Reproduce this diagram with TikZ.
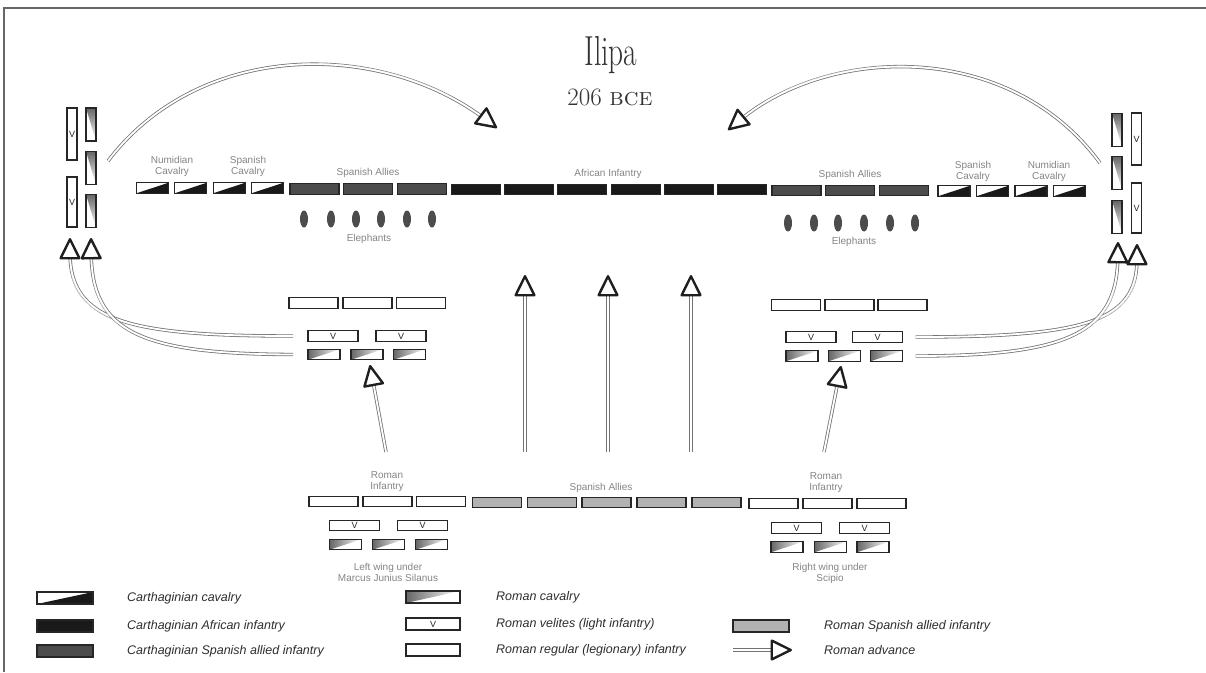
\documentclass[tikz,border=0pt]{standalone}
\usepackage{fontspec}
\usepackage{graphicx}
\usetikzlibrary{arrows.meta,shapes.geometric}
\newfontfamily\lab{Liberation Sans}
\definecolor{labgray}{HTML}{858585}
\begin{document}
\begin{tikzpicture}[x=1pt,y=-1pt,
  unit/.style={draw=black!85, line width=1.1pt, inner sep=0pt, outer sep=0pt, minimum height=10.5pt, rectangle},
  wide/.style={unit, minimum width=49pt},
  narrow/.style={unit, minimum width=32pt},
  afr/.style={wide, fill=black!90},
  csp/.style={wide, fill=black!70},
  rsp/.style={wide, fill=black!30},
  rleg/.style={wide, fill=white},
  vlab/.style={font=\lab\fontsize{9}{9}\selectfont, inner sep=0pt, text=black!85},
  vel/.style={unit, minimum width=50pt, fill=white, label={[vlab]center:V}},
  ccav/.style={narrow, fill=white, path picture={\fill[black!90] (path picture bounding box.south west) -- (path picture bounding box.south east) -- (path picture bounding box.north east) -- cycle;}},
  rcav/.style={narrow, fill=white, path picture={\shade[left color=black!60, right color=white] (path picture bounding box.south west) -- (path picture bounding box.north west) -- (path picture bounding box.north east) -- cycle;}},
  vcav/.style={unit, minimum width=10pt, minimum height=33pt, fill=white, path picture={\shade[top color=black!60, bottom color=white] (path picture bounding box.north west) -- (path picture bounding box.north east) -- (path picture bounding box.south east) -- cycle;}},
  vvel/.style={unit, minimum width=10pt, fill=white, label={[vlab]center:V}},
  eleph/.style={ellipse, fill=black!70, minimum width=8pt, minimum height=17pt, inner sep=0pt},
  lbl/.style={font=\lab\fontsize{10}{11}\selectfont, text=labgray, align=center, inner sep=0pt},
  leg/.style={font=\lab\itshape\fontsize{12.5}{14}\selectfont, text=black!82, anchor=west, inner sep=0pt},
  shaft/.style={draw=black!55, double=white, double distance=1.8pt, line width=0.8pt, shorten >=15pt},
  head/.style={draw=white, line width=0.3pt, -{Triangle[length=23pt, width=22pt, line width=2.4pt 0, fill=white, color=black!88, round]}}
]
\useasboundingbox (0,0) rectangle (1206,672);
\fill[white] (0,0) rectangle (1206,672);
\draw[black!60, line width=1.5pt] (4,672) -- (4,8) -- (1206,8);

% title
\node[anchor=base, text=black!80, inner sep=0pt] (title) at (611,65) {\scalebox{0.7}[1]{\fontsize{42}{42}\selectfont Ilipa}};
\node[anchor=base, text=black!80, inner sep=0pt] (date) at (610,105) {\fontsize{25}{25}\selectfont \oldstylenums{206} \textsc{bce}};

% Carthaginian line
\node[ccav] (nc1) at (152.5,188) {};
\node[ccav] (nc2) at (190.8,188) {};
\node[ccav] (sc1) at (229.2,188) {};
\node[ccav] (sc2) at (267.5,188) {};
\node[csp] (sa1) at (314.5,189) {};
\node[csp] (sa2) at (368,189) {};
\node[csp] (sa3) at (422,189) {};
\node[afr] (af1) at (476,189.5) {};
\node[afr] (af2) at (529,189.5) {};
\node[afr] (af3) at (582,189.5) {};
\node[afr] (af4) at (636,189.5) {};
\node[afr] (af5) at (689,189.5) {};
\node[afr] (af6) at (742,189.5) {};
\node[csp] (sb1) at (796.5,190.5) {};
\node[csp] (sb2) at (850,190.5) {};
\node[csp] (sb3) at (904,190.5) {};
\node[ccav] (sc3) at (954,191) {};
\node[ccav] (sc4) at (992.5,191) {};
\node[ccav] (nc3) at (1031,191) {};
\node[ccav] (nc4) at (1069.5,191) {};

\node[lbl] (lnum1) at (172,166.5) {Numidian\\Cavalry};
\node[lbl] (lspc1) at (248,166.5) {Spanish\\Cavalry};
\node[lbl] (lspa1) at (368,173) {Spanish Allies};
\node[lbl] (lafr) at (608,174) {African Infantry};
\node[lbl] (lspa2) at (850,175) {Spanish Allies};
\node[lbl] (lspc2) at (973,171) {Spanish\\Cavalry};
\node[lbl] (lnum2) at (1049,171) {Numidian\\Cavalry};

% elephants
\foreach \x [count=\i] in {304,331,356,381,407,432} \node[eleph] (el\i) at (\x,219) {};
\foreach \x [count=\i] in {788,814,838,864,890,915} \node[eleph] (er\i) at (\x,223) {};
\node[lbl] (lel1) at (369,239) {Elephants};
\node[lbl] (lel2) at (854,242) {Elephants};

% left flank
\node[vvel, minimum height=52pt] (lfv1) at (72,134) {};
\node[vvel, minimum height=50pt] (lfv2) at (72,202) {};
\node[vcav] (lfc1) at (91,124.5) {};
\node[vcav] (lfc2) at (91,168) {};
\node[vcav] (lfc3) at (91,211) {};
% right flank
\node[vcav] (rfc1) at (1117,130) {};
\node[vcav] (rfc2) at (1117,173) {};
\node[vcav] (rfc3) at (1117,217) {};
\node[vvel, minimum height=52pt] (rfv1) at (1136.5,139) {};
\node[vvel, minimum height=50pt] (rfv2) at (1136.5,208) {};

% middle-left formation
\node[rleg] (lh1) at (313.5,303) {};
\node[rleg] (lh2) at (367.5,303) {};
\node[rleg] (lh3) at (421,303) {};
\node[vel] (lv1) at (333,336) {};
\node[vel] (lv2) at (401,336) {};
\node[rcav] (lc1) at (324,354.5) {};
\node[rcav] (lc2) at (367,354.5) {};
\node[rcav] (lc3) at (409.5,354.5) {};
% middle-right formation
\node[rleg] (rh1) at (796,305) {};
\node[rleg] (rh2) at (849.5,305) {};
\node[rleg] (rh3) at (902.5,305) {};
\node[vel] (rv1) at (811,337) {};
\node[vel] (rv2) at (877.5,337) {};
\node[rcav] (rc1) at (802,356) {};
\node[rcav] (rc2) at (844.5,356) {};
\node[rcav] (rc3) at (886.5,356) {};

% bottom Roman line
\node[rleg] (bl1) at (333.5,501.5) {};
\node[rleg] (bl2) at (387.5,501.5) {};
\node[rleg] (bl3) at (441,501.5) {};
\node[rsp] (bs1) at (497,502.5) {};
\node[rsp] (bs2) at (552,502.5) {};
\node[rsp] (bs3) at (606.5,502.5) {};
\node[rsp] (bs4) at (661.5,502.5) {};
\node[rsp] (bs5) at (716.5,502.5) {};
\node[rleg] (br1) at (773.5,503.5) {};
\node[rleg] (br2) at (827.5,503.5) {};
\node[rleg] (br3) at (881.5,503.5) {};
\node[vel] (wlv1) at (354.5,525.5) {};
\node[vel] (wlv2) at (422.5,525.5) {};
\node[rcav] (wlc1) at (345.5,544.5) {};
\node[rcav] (wlc2) at (388.5,544.5) {};
\node[rcav] (wlc3) at (431.5,544.5) {};
\node[vel] (wrv1) at (796.5,528) {};
\node[vel] (wrv2) at (864.5,528) {};
\node[rcav] (wrc1) at (787,547) {};
\node[rcav] (wrc2) at (830.5,547) {};
\node[rcav] (wrc3) at (873,547) {};

\node[lbl] (lri1) at (387,481.5) {Roman\\Infantry};
\node[lbl] (lri2) at (826,483) {Roman\\Infantry};
\node[lbl] (lspa3) at (601,488) {Spanish Allies};
\node[lbl] (lwing) at (388,572) {Left wing under\\Marcus Junius Silanus};
\node[lbl] (rwing) at (830,573) {Right wing under\\Scipio};

% arrows
\coordinate (ca1) at (525,452); \coordinate (ch1) at (525,275);
\coordinate (ca2) at (608,452); \coordinate (ch2) at (608,275);
\coordinate (ca3) at (691,452); \coordinate (ch3) at (691,275);
\foreach \i in {1,2,3} {\draw[shaft] (ca\i) -- (ch\i); \draw[head] (ca\i) -- (ch\i);}
\coordinate (da1) at (386,452); \coordinate (dh1) at (370,365);
\coordinate (da2) at (824,452); \coordinate (dh2) at (841,366);
\foreach \i in {1,2} {\draw[shaft] (da\i) -- (dh\i); \draw[head] (da\i) -- (dh\i);}

\coordinate (lt1) at (70,238); \coordinate (lt2) at (91,238);
\coordinate (ls1) at ([xshift=-15pt]lv1.west);
\coordinate (ls2) at ([xshift=-15pt]lc1.west);
\draw[shaft] (ls1) .. controls (130,336) and (70,322) .. (lt1);
\draw[head] (ls1) .. controls (130,336) and (70,322) .. (lt1);
\draw[shaft] (ls2) .. controls (140,354) and (92,332) .. (lt2);
\draw[head] (ls2) .. controls (140,354) and (92,332) .. (lt2);
\coordinate (rt1) at (1118,242); \coordinate (rt2) at (1137,244);
\coordinate (rs1) at ([xshift=13pt]rv2.east);
\coordinate (rs2) at ([xshift=13pt]rc3.east);
\draw[shaft] (rs1) .. controls (1085,337) and (1137,322) .. (rt2);
\draw[head] (rs1) .. controls (1085,337) and (1137,322) .. (rt2);
\draw[shaft] (rs2) .. controls (1070,356) and (1117,332) .. (rt1);
\draw[head] (rs2) .. controls (1070,356) and (1117,332) .. (rt1);

\coordinate (bg1) at (108,161); \coordinate (bh1) at (497,128);
\coordinate (bg2) at (1100,163); \coordinate (bh2) at (728,130);
\draw[shaft] (bg1) .. controls (200,40) and (380,40) .. (bh1);
\draw[head] (bg1) .. controls (200,40) and (380,40) .. (bh1);
\draw[shaft] (bg2) .. controls (1010,40) and (830,45) .. (bh2);
\draw[head] (bg2) .. controls (1010,40) and (830,45) .. (bh2);

% legend
\node[ccav, minimum width=56pt, minimum height=12pt] (k1) at (65,598) {};
\node[afr, minimum width=56pt, minimum height=12pt] (k2) at (65,626) {};
\node[csp, minimum width=56pt, minimum height=12pt] (k3) at (65,651) {};
\node[rcav, minimum width=54pt, minimum height=12pt] (k4) at (433,597) {};
\node[vel, minimum width=54pt, minimum height=12pt] (k5) at (433,624) {};
\node[rleg, minimum width=54pt, minimum height=12pt] (k6) at (433,650) {};
\node[rsp, minimum width=56pt, minimum height=12pt] (k7) at (761,626) {};
\coordinate (ka0) at (733,650); \coordinate (ka1) at (792,650);
\draw[shaft] (ka0) -- (ka1);
\draw[head] (ka0) -- (ka1);
\node[leg] (t1) at (127,598) {Carthaginian cavalry};
\node[leg] (t2) at (127,626) {Carthaginian African infantry};
\node[leg] (t3) at (127,651) {Carthaginian Spanish allied infantry};
\node[leg] (t4) at (496,597) {Roman cavalry};
\node[leg] (t5) at (496,624) {Roman velites (light infantry)};
\node[leg] (t6) at (496,650) {Roman regular (legionary) infantry};
\node[leg] (t7) at (824,626) {Roman Spanish allied infantry};
\node[leg] (t8) at (824,650) {Roman advance};
\end{tikzpicture}
\end{document}
